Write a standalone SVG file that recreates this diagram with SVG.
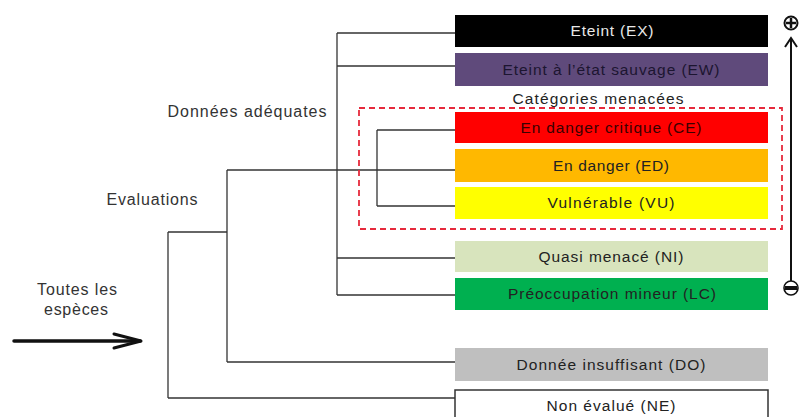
<svg xmlns="http://www.w3.org/2000/svg" width="802" height="417" viewBox="0 0 802 417">
<defs>
<style>
.lbl{font-family:"Liberation Sans",Arial,sans-serif;font-size:15.5px;text-anchor:middle;fill:#222}
.side{font-family:"Liberation Sans",Arial,sans-serif;font-size:16px;text-anchor:middle;fill:#333}
.conn line{stroke:#333;stroke-width:1.3}
</style>
</defs>
<rect width="802" height="417" fill="#fff"/>
<g class="conn" id="connectors">
<line x1="337" y1="33" x2="337" y2="295"/>
<line x1="337" y1="33" x2="455" y2="33"/>
<line x1="337" y1="66" x2="455" y2="66"/>
<line x1="337" y1="258" x2="455" y2="258"/>
<line x1="337" y1="295" x2="455" y2="295"/>
<line x1="227" y1="170" x2="227" y2="362"/>
<line x1="227" y1="170" x2="455" y2="170"/>
<line x1="227" y1="362" x2="455" y2="362"/>
<line x1="168" y1="232" x2="168" y2="398"/>
<line x1="168" y1="232" x2="227" y2="232"/>
<line x1="168" y1="398" x2="455" y2="398"/>
<line x1="377" y1="130" x2="377" y2="206"/>
<line x1="377" y1="130" x2="455" y2="130"/>
<line x1="377" y1="206" x2="455" y2="206"/>
</g>
<g id="threatened-group">
<rect x="359" y="108" width="423" height="121" fill="none" stroke="#e62a3c" stroke-width="1.8" stroke-dasharray="6,4"/>
<text class="lbl" x="598" y="104" textLength="171" lengthAdjust="spacing">Catégories menacées</text>
</g>
<g id="EX"><rect x="455" y="15" width="313" height="32" fill="#000"/><text class="lbl" x="612" y="36" style="fill:#e8e8e8" textLength="83" lengthAdjust="spacing">Eteint (EX)</text></g>
<g id="EW"><rect x="455" y="53" width="313" height="33" fill="#5f4a7b"/><text class="lbl" x="611" y="75" style="fill:#1c1530" textLength="217" lengthAdjust="spacing">Eteint à l’état sauvage (EW)</text></g>
<g id="CE"><rect x="455" y="112" width="313" height="31" fill="#ff0000"/><text class="lbl" x="611" y="133" style="fill:#3a0000" textLength="181" lengthAdjust="spacing">En danger critique (CE)</text></g>
<g id="ED"><rect x="455" y="149" width="313" height="33" fill="#ffb800"/><text class="lbl" x="611" y="171" textLength="116" lengthAdjust="spacing">En danger (ED)</text></g>
<g id="VU"><rect x="455" y="187" width="313" height="32" fill="#ffff00"/><text class="lbl" x="611" y="208" textLength="127" lengthAdjust="spacing">Vulnérable (VU)</text></g>
<g id="NT"><rect x="455" y="241" width="313" height="31" fill="#d8e4bd"/><text class="lbl" x="611" y="262" textLength="145" lengthAdjust="spacing">Quasi menacé (NI)</text></g>
<g id="LC"><rect x="455" y="278" width="313" height="32" fill="#00b050"/><text class="lbl" x="612" y="299" textLength="208" lengthAdjust="spacing">Préoccupation mineur (LC)</text></g>
<g id="DD"><rect x="455" y="348" width="313" height="33" fill="#bfbfbf"/><text class="lbl" x="611" y="370" textLength="189" lengthAdjust="spacing">Donnée insuffisant (DO)</text></g>
<g id="NE"><rect x="455" y="390" width="313" height="34" fill="#fff" stroke="#333" stroke-width="1.5"/><text class="lbl" x="611" y="411" textLength="129" lengthAdjust="spacing">Non évalué (NE)</text></g>
<g id="labels">
<text class="side" x="247" y="117" textLength="159" lengthAdjust="spacing">Données adéquates</text>
<text class="side" x="152" y="205" textLength="91" lengthAdjust="spacing">Evaluations</text>
<text class="side" x="77" y="295" textLength="80" lengthAdjust="spacing">Toutes les</text>
<text class="side" x="76" y="315" textLength="64" lengthAdjust="spacing">espèces</text>
</g>
<g id="input-arrow" fill="none" stroke="#111" stroke-linecap="round" stroke-linejoin="round">
<line x1="14" y1="341" x2="140" y2="341" stroke-width="3.5"/>
<polyline points="114,334 141,341 114,348" stroke-width="3"/>
</g>
<g id="scale" stroke="#111" fill="none">
<line x1="791" y1="40" x2="791" y2="281" stroke-width="2"/>
<polyline points="785,47 791,38 797,47" stroke-width="2"/>
<circle cx="791" cy="23" r="6.5" stroke-width="2"/>
<line x1="786" y1="23" x2="796" y2="23" stroke-width="2.5"/>
<line x1="791" y1="18" x2="791" y2="28" stroke-width="2.5"/>
<circle cx="791" cy="288" r="7" stroke-width="1.6" fill="#fff"/>
<rect x="785" y="286" width="12" height="4" fill="#111" stroke="none"/>
</g>
</svg>
